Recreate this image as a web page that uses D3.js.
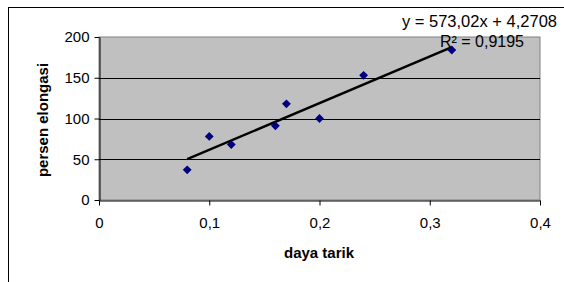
<!DOCTYPE html>
<html>
<head>
<meta charset="utf-8">
<script src="https://cdn.jsdelivr.net/npm/d3@7"></script>
<style>
  body { margin: 0; background: #fff; }
  text { font-family: "Liberation Sans", Arial, sans-serif; }
</style>
</head>
<body>
<script>
// data
const dayaTarik = [0.08, 0.10, 0.12, 0.16, 0.17, 0.20, 0.24, 0.32];
const persenElongasi = [37, 78, 68, 91, 118, 100, 153, 184];
const xTicks = [0, 0.1, 0.2, 0.3, 0.4];
const yTicks = [0, 50, 100, 150, 200];
const slope = 573.02, intercept = 4.2708, rSquared = 0.9195;

const width = 564, height = 282;
const svg = d3.select("body").append("svg")
    .attr("width", width)
    .attr("height", height);

// outer chart border
svg.append("rect")
    .attr("x", 8.5).attr("y", 7.5)
    .attr("width", 570).attr("height", 290)
    .attr("fill", "none")
    .attr("stroke", "#000")
    .attr("stroke-width", 1);

const x = d3.scaleLinear().domain([0, 0.4]).range([99, 540]);
const y = d3.scaleLinear().domain([0, 200]).range([200, 37]);

const fmt = d => String(d).replace(".", ",");

// plot area
svg.append("rect")
    .attr("x", x(0)).attr("y", y(200))
    .attr("width", x(0.4) - x(0)).attr("height", y(0) - y(200))
    .attr("fill", "#c0c0c0")
    .attr("stroke", "#808080")
    .attr("stroke-width", 1);

// gridlines
svg.append("g").selectAll("line")
    .data(yTicks.filter(d => d > 0 && d < 200))
    .join("line")
    .attr("x1", x(0)).attr("x2", x(0.4))
    .attr("y1", d => Math.round(y(d)) + 0.5).attr("y2", d => Math.round(y(d)) + 0.5)
    .attr("stroke", "#000");

// axes
const xAxis = svg.append("g")
    .attr("transform", `translate(0,${Math.round(y(0)) + 0.5})`)
    .call(d3.axisBottom(x).tickValues(xTicks).tickFormat(fmt).tickSize(5).tickSizeOuter(0));
const yAxis = svg.append("g")
    .attr("transform", `translate(${Math.round(x(0)) + 0.5},0)`)
    .call(d3.axisLeft(y).tickValues(yTicks).tickSize(5).tickSizeOuter(0));

[xAxis, yAxis].forEach(g => {
    g.select(".domain").attr("stroke", "#000");
    g.selectAll(".tick line").attr("stroke", "#000");
    g.selectAll(".tick text")
        .attr("fill", "#000")
        .style("font-size", "15px")
        .style("font-family", "'Liberation Sans', Arial, sans-serif");
});
xAxis.selectAll(".tick text").attr("dy", "1.3em");
yAxis.selectAll(".tick text").attr("x", -10);

// axis titles
svg.append("text")
    .attr("x", 319).attr("y", 258)
    .attr("text-anchor", "middle")
    .style("font-size", "15px").style("font-weight", "bold")
    .text("daya tarik");

svg.append("text")
    .attr("transform", `translate(48,120) rotate(-90)`)
    .attr("text-anchor", "middle")
    .style("font-size", "15px").style("font-weight", "bold")
    .text("persen elongasi");

// trendline
const xMin = d3.min(dayaTarik), xMax = d3.max(dayaTarik);
svg.append("line")
    .attr("x1", x(xMin)).attr("y1", y(slope * xMin + intercept))
    .attr("x2", x(xMax)).attr("y2", y(slope * xMax + intercept))
    .attr("stroke", "#000")
    .attr("stroke-width", 2.5);

// markers
svg.append("g").selectAll("path")
    .data(dayaTarik.map((d, i) => [d, persenElongasi[i]]))
    .join("path")
    .attr("d", d3.symbol(d3.symbolDiamond2, 50))
    .attr("transform", d => `translate(${x(d[0])},${y(d[1])})`)
    .attr("fill", "#000080");

// equation labels
svg.append("text")
    .attr("x", 557).attr("y", 27)
    .attr("text-anchor", "end")
    .style("font-size", "16.5px")
    .text(`y = ${fmt(slope)}x + ${fmt(intercept)}`);
svg.append("text")
    .attr("x", 524).attr("y", 47)
    .attr("text-anchor", "end")
    .style("font-size", "16px")
    .text(`R² = ${fmt(rSquared)}`);
</script>
</body>
</html>
